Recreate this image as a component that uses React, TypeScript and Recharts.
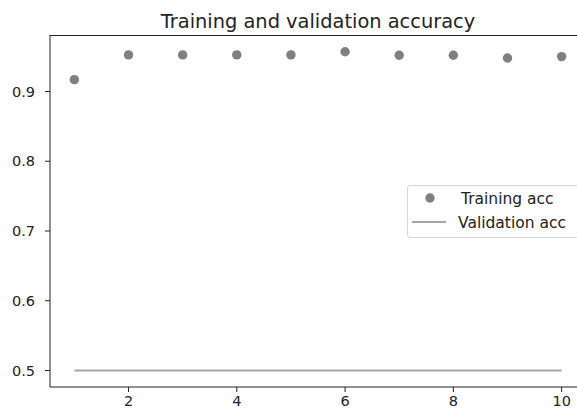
import React from 'react';
import { ComposedChart, Line, XAxis, YAxis } from 'recharts';

const epochs = [1, 2, 3, 4, 5, 6, 7, 8, 9, 10];
const trainingAcc = [0.917, 0.9525, 0.9525, 0.9525, 0.9525, 0.957, 0.952, 0.952, 0.948, 0.950];
const validationAcc = [0.5, 0.5, 0.5, 0.5, 0.5, 0.5, 0.5, 0.5, 0.5, 0.5];
const xTicks = [2, 4, 6, 8, 10];
const yTicks = [0.5, 0.6, 0.7, 0.8, 0.9];
const seriesNames = ['Training acc', 'Validation acc'];
const title = 'Training and validation accuracy';

const data = epochs.map((e, i) => ({ epoch: e, train: trainingAcc[i], val: validationAcc[i] }));

const FONT = '"DejaVu Sans", sans-serif';
const DOT = '#808080';
const LINE = '#a6a6a6';
const AXIS = '#222';
const Y_DOMAIN: [number, number] = [0.4763, 0.981];
const TICK_FS = 14.5;
const LEGEND_FS = 15.5;
const TITLE_FS = 19.4;
const DOT_R = 4.7;

export default function App() {
  return (
    <div style={{ position: 'absolute', left: 0, top: 0, width: 577, height: 412, overflow: 'hidden', background: '#fff', fontFamily: FONT }}>
      <div style={{ position: 'absolute', left: 50, width: 536, top: 11.5, textAlign: 'center', fontSize: TITLE_FS, lineHeight: `${TITLE_FS}px`, color: AXIS, whiteSpace: 'nowrap' }}>
        {title}
      </div>
      <ComposedChart width={600} height={412} data={data} margin={{ top: 35, right: 14, left: 0, bottom: 0 }}>
        <XAxis
          xAxisId="b"
          dataKey="epoch"
          type="number"
          domain={[0.55, 10.45]}
          ticks={xTicks}
          allowDataOverflow
          height={25}
          tickSize={5}
          tickMargin={4}
          stroke={AXIS}
          tick={{ fill: AXIS, fontSize: TICK_FS, fontFamily: FONT }}
          tickLine={{ stroke: AXIS }}
          axisLine={{ stroke: AXIS }}
        />
        <YAxis
          yAxisId="l"
          type="number"
          domain={Y_DOMAIN}
          ticks={yTicks}
          allowDataOverflow
          width={50}
          tickSize={5}
          tickMargin={10}
          tickFormatter={(v: number) => v.toFixed(1)}
          tick={{ fill: AXIS, fontSize: TICK_FS, fontFamily: FONT }}
          tickLine={{ stroke: AXIS }}
          axisLine={{ stroke: AXIS }}
        />
        <Line
          xAxisId="b"
          yAxisId="l"
          dataKey="val"
          type="linear"
          stroke={LINE}
          strokeWidth={2.1}
          dot={false}
          activeDot={false}
          isAnimationActive={false}
        />
        <Line
          xAxisId="b"
          yAxisId="l"
          dataKey="train"
          type="linear"
          stroke="none"
          dot={{ r: DOT_R, fill: DOT, stroke: 'none' }}
          activeDot={false}
          isAnimationActive={false}
        />
      </ComposedChart>
      <div style={{ position: 'absolute', left: 50, top: 34.5, width: 540, height: 1, background: AXIS }} />
      <div style={{ position: 'absolute', left: 407, top: 185, width: 172, height: 53, boxSizing: 'border-box', border: '1px solid #d6d6d6', borderRadius: 3, background: 'rgba(255,255,255,0.8)' }}>
        <svg width={172} height={53} style={{ position: 'absolute', left: -1, top: -1 }}>
          <circle cx={23} cy={13} r={DOT_R} fill={DOT} />
          <line x1={5} x2={39} y1={37} y2={37} stroke={LINE} strokeWidth={2.1} />
          <text x={54} y={13} dy="0.36em" fontSize={LEGEND_FS} fontFamily={FONT} fill={AXIS}>{seriesNames[0]}</text>
          <text x={51} y={37} dy="0.36em" fontSize={LEGEND_FS} fontFamily={FONT} fill={AXIS}>{seriesNames[1]}</text>
        </svg>
      </div>
    </div>
  );
}
